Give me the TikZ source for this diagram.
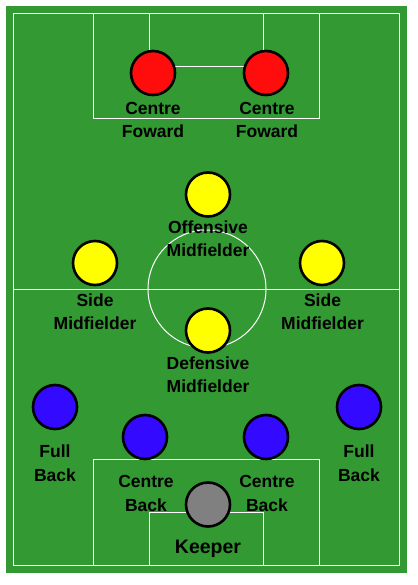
\documentclass[tikz,border=0pt]{standalone}
\usepackage{fontspec}
\setmainfont{Liberation Sans}
\usetikzlibrary{automata, positioning}
\definecolor{pitch}{RGB}{51,153,51}
\definecolor{fwd}{RGB}{255,13,13}
\definecolor{mid}{RGB}{255,255,0}
\definecolor{back}{RGB}{51,10,255}
\definecolor{keep}{RGB}{128,128,128}
\tikzset{
  every state/.style={minimum size=44pt, line width=2.6pt, inner sep=0pt},
  marking/.style={draw=white, line width=1pt},
  lbl/.style={font=\bfseries\fontsize{17.5}{23.5}\selectfont, align=center, inner sep=0pt}
}

\begin{document}
\begin{tikzpicture}[x=1pt, y=-1pt]
\useasboundingbox (0,0) rectangle (417,585);
        % Draw the pitch
        \fill[pitch] (6,6) rectangle (407,573);
        \draw[marking] (13.5,13.5) rectangle (399.5,565);
        \draw[marking] (13.5,289) -- (399.5,289);
        \draw[marking] (207,289) circle (59);
        \draw[marking] (93.5,13.5) rectangle (319.5,119);
        \draw[marking] (149.5,13.5) rectangle (263.5,66.5);
        \draw[marking] (93.5,565) rectangle (319.5,459.5);
        \draw[marking] (149.5,565) rectangle (263.5,512.5);

        % Draw the players
        \node[state, fill=fwd] at (153, 73)      (cf1)    {};
        \node[state, fill=fwd] at (266, 73)      (cf2)    {};
        \node[state, fill=mid] at (208, 194.5)   (om)     {};
        \node[state, fill=mid] at (95, 263)      (sm1)    {};
        \node[state, fill=mid] at (322, 263)     (sm2)    {};
        \node[state, fill=mid] at (208, 330.5)   (dm)     {};
        \node[state, fill=back] at (55, 407)     (fb1)    {};
        \node[state, fill=back] at (359, 407)    (fb2)    {};
        \node[state, fill=back] at (145, 437)    (cb1)    {};
        \node[state, fill=back] at (266, 437)    (cb2)    {};
        \node[state, fill=keep] at (208, 504.5)  (gk)     {};

        % Names of the positions
        \node[lbl] at (153, 120)     (cf1t)   {Centre\\Foward};
        \node[lbl] at (267, 120)     (cf2t)   {Centre\\Foward};
        \node[lbl] at (208, 238.5)   (omt)    {Offensive\\Midfielder};
        \node[lbl] at (95, 311.5)    (sm1t)   {Side\\Midfielder};
        \node[lbl] at (322.5, 311.5) (sm2t)   {Side\\Midfielder};
        \node[lbl] at (208, 374.5)   (dmt)    {Defensive\\Midfielder};
        \node[lbl] at (55, 463)      (fb1t)   {Full\\Back};
        \node[lbl] at (359, 463)     (fb2t)   {Full\\Back};
        \node[lbl] at (146, 493.5)   (cb1t)   {Centre\\Back};
        \node[lbl] at (267, 493.5)   (cb2t)   {Centre\\Back};
        \node[lbl, font=\bfseries\fontsize{19.5}{23.5}\selectfont] at (208, 549) (gkt) {Keeper};
\end{tikzpicture}
\end{document}
